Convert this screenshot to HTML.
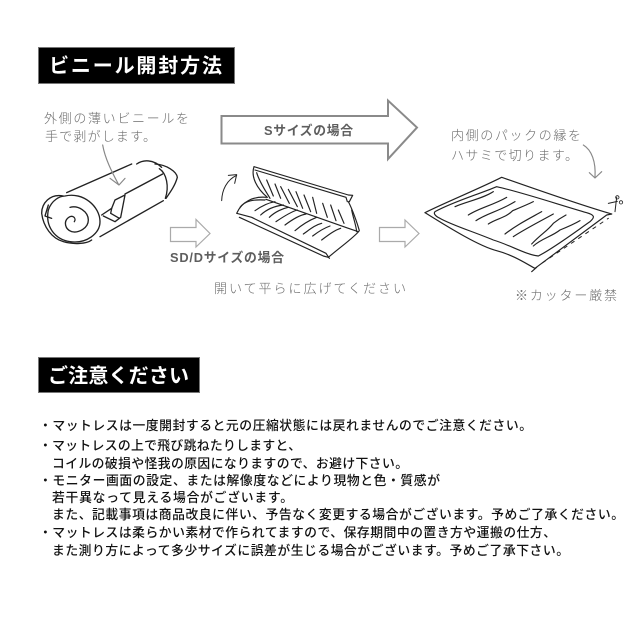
<!DOCTYPE html>
<html lang="ja">
<head>
<meta charset="utf-8">
<style>
html,body{margin:0;padding:0;background:#fff;width:640px;height:640px;overflow:hidden}
svg{display:block;font-family:"Liberation Sans","Noto Sans CJK JP",sans-serif}
.b{fill:#111;font-size:12.800px;font-weight:500}
.h{fill:#6e6e6e;font-size:13px;font-weight:300}
.g{fill:#5e5e5e;font-size:12.800px;font-weight:700}
.w{fill:#fff;font-weight:700}
.k{fill:none;stroke:#222;stroke-linecap:round;stroke-linejoin:round}
</style>
</head>
<body>
<svg width="640" height="640" viewBox="0 0 640 640" xmlns="http://www.w3.org/2000/svg">
<rect width="640" height="640" fill="#fff"/>

<!-- Headers -->
<rect x="38.500" y="47.500" width="196" height="36" fill="#000" stroke="#777"/>
<text class="w" x="49" y="72.500" font-size="20" textLength="173">ビニール開封方法</text>
<rect x="38.500" y="357.500" width="161" height="35" fill="#000" stroke="#777"/>
<text class="w" x="48" y="382.500" font-size="20" textLength="141">ご注意ください</text>

<!-- Handwritten labels -->
<text class="h" x="44" y="123" textLength="145">外側の薄いビニールを</text>
<text class="h" x="45" y="141" textLength="111">手で剥がします。</text>
<text class="h" x="214" y="293" textLength="192">開いて平らに広げてください</text>
<text class="h" x="451" y="140" textLength="130">内側のパックの縁を</text>
<text class="h" x="451" y="160" textLength="127">ハサミで切ります。</text>
<text class="h" x="515" y="300" textLength="102">※カッター厳禁</text>

<!-- Block arrows -->
<path d="M221.500 116H388V100.500L417 127.500L388 159V143.500H221.500Z" fill="#fff" stroke="#8a8a8a" stroke-width="2"/>
<text class="g" x="264" y="135" textLength="89">Sサイズの場合</text>
<path d="M170.500 227.500H196V219.500L210 233.500L196 247V241.500H170.500Z" fill="#fff" stroke="#aaa" stroke-width="1.200"/>
<path d="M379.500 227.500H405V220L419 233.500L405 247V241.500H379.500Z" fill="#fff" stroke="#aaa" stroke-width="1.200"/>
<text class="g" x="170" y="262" textLength="114">SD/Dサイズの場合</text>

<!-- Roll -->
<g transform="translate(20,90) scale(.33333)" class="k" stroke-width="4">
<path d="M140 308L335 222"/>
<path d="M350 222C370 208 400 208 425 232"/>
<path d="M405 222C440 224 470 245 472 262C466 285 452 305 438 325"/>
<path d="M418 236C440 250 448 290 436 325"/>
<path d="M428 252L315 312"/>
<path d="M430 332L240 440"/>
<path d="M135 318C190 305 240 350 240 395C240 430 200 462 150 455C105 448 75 410 85 360C95 330 120 318 135 318"/>
<path d="M130 318C90 310 65 340 65 370C70 410 95 445 130 455C160 464 200 462 215 450"/>
<path d="M85 345L75 378L95 385"/>
<path d="M150 352C175 345 205 365 205 390C205 415 175 430 155 425C135 418 130 395 145 383C158 373 170 385 163 395"/>
<path d="M245 375L275 355L285 330L315 315L302 382L285 395L250 378"/>
<path d="M275 355L272 370L298 385"/>
<path d="M248 165C255 205 275 245 295 282M270 265L297 285L315 265" stroke="#888" stroke-width="3.500"/>
</g>

<!-- Opening mattress -->
<g transform="translate(220,160) scale(.33333)" class="k" stroke-width="3.500">
<path d="M5 122C6 90 20 60 50 46" stroke-width="3"/>
<path d="M25 46L50 44L44 70" stroke-width="3"/>
<path d="M102 20L385 105L398 106L388 125"/>
<path d="M105 30L378 112L382 125"/>
<path d="M102 20C92 50 110 85 142 112"/>
<path d="M110 38C118 65 135 90 150 115"/>
<path d="M385 125C398 150 412 190 418 212C405 230 360 262 325 292"/>
<path d="M395 150C400 175 408 195 410 215"/>
<path d="M140 112C100 108 65 125 50 160L95 172L318 280L328 295"/>
<path d="M58 172L310 288L325 292"/>
<path d="M60 142C75 122 100 118 135 120"/>
<path d="M138 118L385 205L415 215"/>
<path d="M140 60L160 108M165 72L182 115M182 80L208 130M205 88L232 140M228 95L248 145M252 105L272 155M278 112L290 160M308 130L322 172M332 135L348 182M355 150L372 190"/>
<path d="M105 152C125 138 145 128 165 125M122 165C140 148 165 138 190 135M148 172C165 155 190 145 205 142M168 185C190 170 215 155 232 150M195 195C215 180 240 165 258 162M225 212C245 195 270 180 290 172M250 222C270 208 285 195 305 190M278 228C295 215 310 205 330 198M305 240C325 225 345 210 362 205"/>
</g>

<!-- Flat mattress -->
<g transform="translate(320,90) scale(.33333)" class="k" stroke-width="3.500">
<path d="M315 368C370 340 480 295 545 262C640 295 780 345 875 372"/>
<path d="M315 368C390 415 480 470 530 482C580 495 620 522 645 535L860 375L875 372"/>
<path d="M345 365C400 335 470 315 530 290C600 305 720 345 800 368C825 375 825 382 810 395C760 430 700 475 655 498C620 495 570 465 520 450C460 425 395 405 360 385C345 378 340 370 345 365"/>
<path d="M405 350C440 335 490 325 520 305M445 375C475 355 520 345 560 322M468 392C500 370 535 365 585 335M505 402C530 385 555 385 578 362C595 355 620 345 640 335M555 432C590 405 620 390 665 365M580 440C610 420 640 405 700 372M635 462C665 430 680 425 700 400C710 392 725 382 738 375M640 468C665 445 695 440 720 420C745 410 770 398 780 392"/>
<path d="M668 518L865 385" stroke-width="3" stroke-dasharray="10 16"/>
<path d="M635 545L650 532"/>
<path d="M790 165C815 180 828 215 825 262M808 248L825 264L845 245" stroke="#888" stroke-width="3.500"/>
<path d="M865 340L892 334M890 322L885 365" stroke-width="3"/>
<circle cx="892" cy="322" r="5" stroke-width="2.500"/>
<circle cx="903" cy="337" r="5" stroke-width="2.500"/>
</g>

<!-- Notes -->
<text class="b" x="39" y="430" textLength="493">・マットレスは一度開封すると元の圧縮状態には戻れませんのでご注意ください。</text>
<text class="b" x="39" y="450" textLength="262">・マットレスの上で飛び跳ねたりしますと、</text>
<text class="b" x="52" y="468" textLength="356">コイルの破損や怪我の原因になりますので、お避け下さい。</text>
<text class="b" x="39" y="485" textLength="401">・モニター画面の設定、または解像度などにより現物と色・質感が</text>
<text class="b" x="52" y="502" textLength="241">若干異なって見える場合がございます。</text>
<text class="b" x="52" y="519" textLength="572">また、記載事項は商品改良に伴い、予告なく変更する場合がございます。予めご了承ください。</text>
<text class="b" x="39" y="537" textLength="517">・マットレスは柔らかい素材で作られてますので、保存期間中の置き方や運搬の仕方、</text>
<text class="b" x="52" y="555" textLength="517">また測り方によって多少サイズに誤差が生じる場合がございます。予めご了承下さい。</text>
</svg>
</body>
</html>
